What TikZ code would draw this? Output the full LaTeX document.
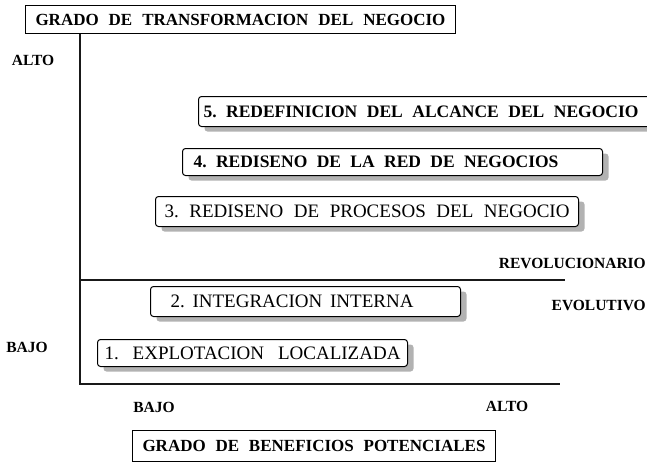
\documentclass[tikz,border=0pt]{standalone}
\usepackage{fontspec}
\setmainfont{Liberation Serif}
\usetikzlibrary{shadows}
\frenchspacing

\begin{document}
\begin{tikzpicture}[x=1pt,y=-1pt,
        etapa/.style={draw, line width=1pt, rounded corners=3pt, fill=white, anchor=north west,
          inner ysep=0pt, font=\fontsize{19}{21}\selectfont,
          drop shadow={shadow xshift=6pt, shadow yshift=-5pt, fill=gray!60, opacity=1}},
        marco/.style={draw, line width=1pt, fill=white, anchor=north west, inner ysep=0pt,
          font=\bfseries\fontsize{17}{19}\selectfont},
        nivel/.style={font=\bfseries\fontsize{15.5}{17}\selectfont}]
        \useasboundingbox (0,0) rectangle (647,463);

        \node (titulo) [marco, inner xsep=10pt, minimum height=28pt] at (25,5)
            {\makebox[410pt][s]{GRADO DE TRANSFORMACION DEL NEGOCIO}};
        \node (beneficios) [marco, inner xsep=10pt, minimum height=31pt] at (132,430)
            {\makebox[343pt][s]{GRADO DE BENEFICIOS POTENCIALES}};

        \coordinate (origen) at (80,384);
        \coordinate (finx) at (560,384);
        \coordinate (corte) at (80,280);
        \coordinate (fincorte) at (565,280);

        \draw[line width=2.4pt, gray!20!black] (titulo.south -| origen) -- (origen) -- (finx);
        \draw[line width=1.4pt, gray!20!black] (corte) -- (fincorte);

        \node (altoy) [nivel] at (33,60) {ALTO};
        \node (bajoy) [nivel] at (27,347) {BAJO};
        \node (bajox) [nivel] at (154,407) {BAJO};
        \node (altox) [nivel] at (507,406) {ALTO};
        \node (revol) [nivel, anchor=east, inner xsep=0pt] at (646,263) {REVOLUCIONARIO};
        \node (evol) [nivel, anchor=east, inner xsep=0pt] at (646,305) {EVOLUTIVO};

        % etapas: caja de ancho fijo, texto estirado a su largo
        \node (e5) [etapa, inner xsep=5pt, minimum height=30pt,
            font=\bfseries\fontsize{17.5}{20}\selectfont] at (198,96)
            {\makebox[444pt][l]{\makebox[435pt][s]{5. REDEFINICION DEL ALCANCE DEL NEGOCIO}}};
        \node (e4) [etapa, inner xsep=11pt, minimum height=27pt,
            font=\bfseries\fontsize{17.5}{20}\selectfont] at (182,148)
            {\makebox[398pt][l]{\makebox[365pt][s]{4. REDISENO DE LA RED DE NEGOCIOS}}};
        \node (e3) [etapa, inner xsep=9pt, minimum height=30pt] at (155,196)
            {\makebox[405pt][l]{\makebox[405pt][s]{3. REDISENO DE PROCESOS DEL NEGOCIO}}};
        \node (e2) [etapa, inner xsep=20pt, minimum height=30pt] at (150,286)
            {\makebox[270pt][l]{\makebox[243pt][s]{2. INTEGRACION INTERNA}}};
        \node (e1) [etapa, inner xsep=7pt, minimum height=27pt] at (97,339)
            {\makebox[296pt][l]{\makebox[296pt][s]{1. EXPLOTACION LOCALIZADA}}};

    \end{tikzpicture}
\end{document}
